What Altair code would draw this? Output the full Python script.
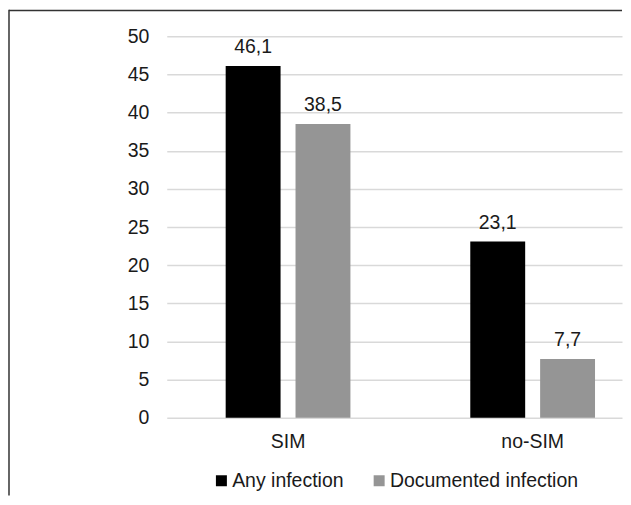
import altair as alt
import pandas as pd

FONT = "Liberation Sans"
FS = 19.5

categories = ["SIM", "no-SIM"]
series_names = ["Any infection", "Documented infection"]
groups = ["SIM", "SIM", "no-SIM", "no-SIM"]
series = ["Any infection", "Documented infection", "Any infection", "Documented infection"]
values = [46.1, 38.5, 23.1, 7.7]
y_ticks = [0, 5, 10, 15, 20, 25, 30, 35, 40, 45, 50]
colors = ["#000000", "#959595"]

df = pd.DataFrame({"group": groups, "series": series, "value": values})
one = pd.DataFrame({"k": [0]})

W, H = 456, 382

x = alt.X(
    "group:N",
    sort=categories,
    scale=alt.Scale(paddingInner=0.49, paddingOuter=0.1756, align=0.686),
    axis=alt.Axis(title=None, labelAngle=0, domain=False, ticks=False, labelPadding=15,
                  labelFontSize=FS, labelColor="#1a1a1a", labelFont=FONT),
)
xo = alt.XOffset("series:N", sort=series_names, scale=alt.Scale(paddingInner=0.214, paddingOuter=0))
y = alt.Y(
    "value:Q",
    scale=alt.Scale(domain=[0, 50], nice=False),
    axis=alt.Axis(values=y_ticks, title=None, domain=False, ticks=False, labelPadding=18,
                  labelFontSize=FS, labelColor="#1a1a1a", labelFont=FONT,
                  grid=True, gridColor="#d9d9d9", gridWidth=1.5),
)
color = alt.Color(
    "series:N",
    sort=series_names,
    scale=alt.Scale(domain=series_names, range=colors),
    legend=alt.Legend(title=None, orient="none", legendX=45, legendY=435, direction="horizontal",
                      symbolType="square", symbolSize=121, symbolStrokeWidth=0,
                      labelFontSize=FS, labelFont=FONT, labelColor="#1a1a1a", labelLimit=400,
                      columnPadding=25, labelOffset=1),
)

bars = alt.Chart(df).mark_bar().encode(x=x, xOffset=xo, y=y, color=color)
labels = (
    alt.Chart(df)
    .transform_calculate(label="replace(format(datum.value, '.1f'), '.', ',')")
    .mark_text(baseline="alphabetic", dy=-13, fontSize=FS, font=FONT, color="#1a1a1a")
    .encode(x=x, xOffset=xo, y=y, text="label:N")
)
# invisible spacer that reserves the top margin of the frame
spacer = alt.Chart(one).mark_rect(color="white", opacity=0).encode(
    x=alt.value(-158.75), x2=alt.value(-150), y=alt.value(-28), y2=alt.value(-20)
)
frame_top = alt.Chart(one).mark_rule(color="#333333", strokeWidth=1.5).encode(
    x=alt.value(-158), x2=alt.value(W), y=alt.value(-26), y2=alt.value(-26)
)
frame_left = alt.Chart(one).mark_rule(color="#333333", strokeWidth=1.5).encode(
    x=alt.value(-158), x2=alt.value(-158), y=alt.value(-26.75), y2=alt.value(460)
)

chart = (
    alt.layer(bars, labels, spacer, frame_top, frame_left)
    .properties(width=W, height=H, padding=0, background="white")
    .configure_view(stroke=None)
)

chart.save("out.html", embed_options={"renderer": "svg", "actions": False})
